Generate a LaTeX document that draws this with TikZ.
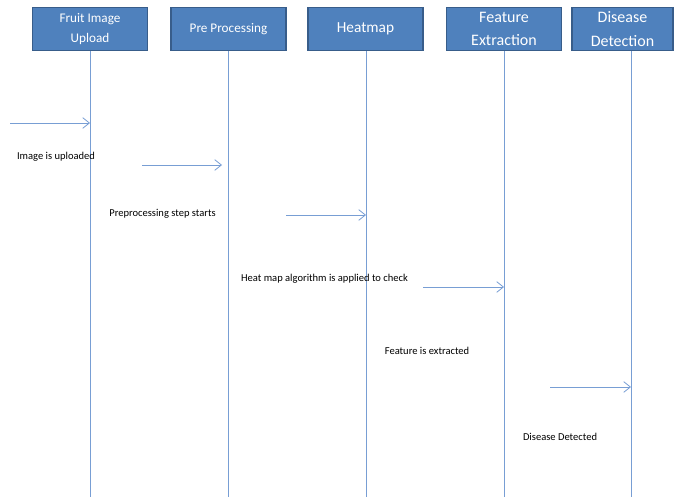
\documentclass[tikz,border=0pt]{standalone}
\usepackage{fontspec}
\setmainfont{Carlito}
\usetikzlibrary{arrows.meta}
\definecolor{boxfill}{RGB}{79,129,189}
\definecolor{boxline}{RGB}{56,93,138}
\definecolor{lifeblue}{RGB}{120,158,212}
\tikzset{every picture/.style={line width=0.75pt}}
\begin{document}
\begin{tikzpicture}[x=0.75pt,y=0.75pt,yscale=-1,xscale=1,
  actor/.style={draw=boxline,line width=1.1pt,fill=boxfill,text=white,align=center,
    minimum height=32.5pt,inner sep=0.75pt,font=\fontsize{9.9}{15}\selectfont},
  bigactor/.style={actor,font=\fontsize{12}{17.5}\selectfont},
  life/.style={draw=lifeblue,line width=0.6pt},
  msg/.style={draw=lifeblue,line width=0.6pt,-{Straight Barb[length=5pt,width=8pt,line width=0.6pt]}},
  lbl/.style={inner sep=0.75pt,font=\fontsize{7.9}{9}\selectfont}]
\useasboundingbox (0,0) rectangle (677,499);

%Shapes: Lifeline heads
\node[actor,minimum width=86.5pt] (upload) at (90,29) {Fruit Image\\Upload};
\node[actor,minimum width=86.5pt] (prep) at (228.5,29) {Pre Processing};
\node[bigactor,minimum width=86.5pt,font=\fontsize{11.5}{14}\selectfont] (heat) at (365.5,29) {Heatmap};
\node[bigactor,minimum width=86.5pt] (feat) at (504,29) {Feature\\Extraction};
\node[bigactor,minimum width=75.5pt] (detect) at (622.5,29) {Disease\\Detection};

%Lifeline ends
\coordinate (e1) at (90,497);
\coordinate (e2) at (228,497);
\coordinate (e3) at (366,497);
\coordinate (e4) at (504,497);
\coordinate (e5) at (631,497);

%Straight Lines: lifelines
\draw[life] (upload.south -| e1) -- (e1);
\draw[life] (prep.south -| e2) -- (e2);
\draw[life] (heat.south -| e3) -- (e3);
\draw[life] (feat.south -| e4) -- (e4);
\draw[life] (detect.south -| e5) -- (e5);

%Straight Lines: messages
\coordinate (s1) at (10,123);
\coordinate (s2) at (142,165);
\coordinate (t2) at (222,165);
\coordinate (s3) at (286,215);
\coordinate (s4) at (423,287);
\coordinate (s5) at (550,387);
\draw[msg] (s1) -- (s1 -| e1);
\draw[msg] (s2) -- (t2);
\draw[msg] (s3) -- (s3 -| e3);
\draw[msg] (s4) -- (s4 -| e4);
\draw[msg] (s5) -- (s5 -| e5);

% Text Node
\node[lbl] (txt1) at (56,157) {Image is uploaded};
% Text Node
\node[lbl] (txt2) at (162.5,214) {Preprocessing step starts};
% Text Node
\node[lbl] (txt3) at (324.5,279) {Heat map algorithm is applied to check};
% Text Node
\node[lbl] (txt4) at (427,351) {Feature is extracted};
% Text Node
\node[lbl] (txt5) at (560,437) {Disease Detected};

\end{tikzpicture}
\end{document}
